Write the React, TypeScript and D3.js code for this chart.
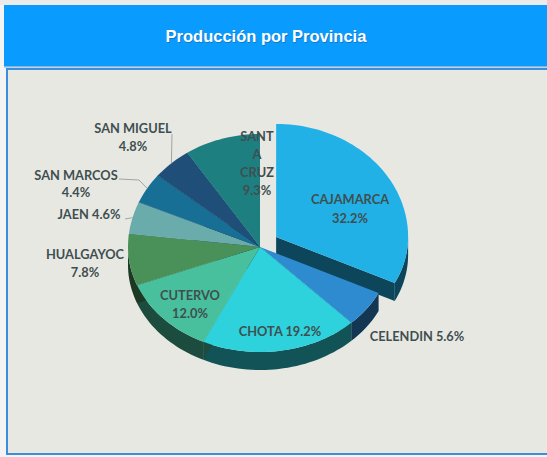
import React from "react";
import * as d3 from "d3";

const categories = ["CAJAMARCA", "CELENDIN", "CHOTA", "CUTERVO", "HUALGAYOC", "JAEN", "SAN MARCOS", "SAN MIGUEL", "SANTA CRUZ"];
const shares = [32.2, 5.6, 19.2, 12.0, 7.8, 4.6, 4.4, 4.8, 9.3];
const colors = ["#22b1e6", "#2f8bd0", "#2ed2dc", "#48c09d", "#4a9159", "#6aacab", "#186f95", "#1f4f79", "#1e7f81"];
const exploded = ["CAJAMARCA"];
const titleText = "Producción por Provincia";

// layout of labels (positions only)
type Lay = { lines: string[] | null; x: number; y: number[]; leader?: number[][] };
const labelLayout: Lay[] = [
  { lines: null, x: 350, y: [201, 220] },
  { lines: null, x: 417, y: [338] },
  { lines: null, x: 280, y: [333] },
  { lines: null, x: 190, y: [297, 315] },
  { lines: null, x: 85, y: [256, 274] },
  { lines: null, x: 89, y: [216], leader: [[125, 219]] },
  { lines: null, x: 76, y: [177, 194], leader: [[119, 179], [139, 180]] },
  { lines: null, x: 133, y: [130, 148], leader: [[172, 134]] },
  { lines: ["SANT", "A", "CRUZ"], x: 257, y: [138, 156, 174, 192] },
];
const lineMode = ["two", "one", "one", "two", "two", "one", "two", "two", "custom"];

export default function App() {
  const W = 547, H = 457;
  const cx = 260, cy = 247, rx = 132, ryT = 113, ryB = 105, depth = 18, explode = 19;

  const pie = d3.pie<number>().sort(null).value((d) => d).startAngle(0).endAngle(2 * Math.PI);
  const arcs = pie(shares);

  const pt = (a: number, ox: number, oy: number): [number, number] => {
    const c = Math.cos(a);
    return [ox + rx * Math.sin(a), oy - (c >= 0 ? ryT : ryB) * c];
  };
  const arcPts = (a0: number, a1: number, ox: number, oy: number) => {
    const n = Math.max(2, Math.ceil(((a1 - a0) / (2 * Math.PI)) * 180));
    return d3.range(n + 1).map((i) => pt(a0 + ((a1 - a0) * i) / n, ox, oy));
  };
  const line = d3.line();

  const slices = arcs.map((a, i) => {
    const mid = (a.startAngle + a.endAngle) / 2;
    const isEx = exploded.includes(categories[i]);
    const ox = cx + (isEx ? explode * Math.sin(mid) : 0);
    const oy = cy - (isEx ? explode * Math.cos(mid) : 0);
    return { a, i, ox, oy, mid };
  });

  const sides: { d: string; fill: string; key: string }[] = [];
  slices.forEach(({ a, i, ox, oy }) => {
    const side = d3.color(colors[i])!.darker(2.6).toString();
    const s0 = Math.max(a.startAngle, Math.PI / 2);
    const s1 = Math.min(a.endAngle, (3 * Math.PI) / 2);
    if (s1 > s0) {
      const top = arcPts(s0, s1, ox, oy);
      const bot = top.map(([x, y]) => [x, y + depth] as [number, number]).reverse();
      sides.push({ d: line([...top, ...bot])! + "Z", fill: side, key: "o" + i });
    }
    const rad = (ang: number, k: string) => {
      const p = pt(ang, ox, oy);
      const q: [number, number][] = [[ox, oy], p, [p[0], p[1] + depth], [ox, oy + depth]];
      sides.push({ d: line(q)! + "Z", fill: side, key: k + i });
    };
    if (Math.sin(a.endAngle) > 1e-6) rad(a.endAngle, "e");
    if (Math.sin(a.startAngle) < -1e-6) rad(a.startAngle, "s");
  });

  const tops = slices.map(({ a, i, ox, oy }) => {
    const pts = [[ox, oy] as [number, number], ...arcPts(a.startAngle, a.endAngle, ox, oy)];
    return { d: line(pts)! + "Z", fill: colors[i], key: "t" + i };
  });

  const fmt = (v: number) => v.toFixed(1) + "%";
  const labelLines = (i: number) => {
    const name = categories[i];
    const pct = fmt(shares[i]);
    if (lineMode[i] === "one") return [name + " " + pct];
    if (lineMode[i] === "two") return [name, pct];
    return [...(labelLayout[i].lines as string[]), pct];
  };

  return (
    <svg width={W} height={H} style={{ position: "absolute", left: 0, top: 0 }}>
      <rect x={0} y={0} width={W} height={H} fill="#f4f4f4" />
      <rect x={0} y={0} width={W} height={5} fill="#ebebea" />
      <rect x={4} y={5} width={W - 4} height={62} fill="#0a9bff" />
      <rect x={4} y={66} width={W - 4} height={1.5} fill="#7fb5de" />
      <text x={266} y={38} textAnchor="middle" dominantBaseline="middle" fontFamily="Liberation Sans, Arial, sans-serif" fontWeight="bold" fontSize={16.5} fill="#1b3c5a" opacity={0.35} transform="translate(0.8,0.8)">
        {titleText}
      </text>
      <text x={266} y={38} textAnchor="middle" dominantBaseline="middle" fontFamily="Liberation Sans, Arial, sans-serif" fontWeight="bold" fontSize={16.5} fill="#ffffff">
        {titleText}
      </text>
      <rect x={7} y={69} width={W} height={385} fill="#e8e8e3" stroke="#3a8edb" strokeWidth={2} />
      <g>
        {sides.map((s) => (
          <path key={s.key} d={s.d} fill={s.fill} />
        ))}
        {tops.map((s) => (
          <path key={s.key} d={s.d} fill={s.fill} />
        ))}
      </g>
      <g fill="none" stroke="#a3a3a3" strokeWidth={1}>
        {slices.map(({ i, mid }) => {
          const lay = labelLayout[i];
          if (!lay.leader) return null;
          const end = pt(mid, cx, cy);
          return <path key={"l" + i} d={line([...(lay.leader as [number, number][]), end])!} />;
        })}
      </g>
      <g fontFamily="Lato, 'Open Sans', sans-serif" fontWeight="bold" fontSize={12.8} fill="#3f4f50">
        {slices.map(({ i }) => {
          const lay = labelLayout[i];
          return labelLines(i).map((t, k) => (
            <text key={"t" + i + "_" + k} x={lay.x} y={lay.y[k]} textAnchor="middle" dominantBaseline="middle">
              {t}
            </text>
          ));
        })}
      </g>
    </svg>
  );
}
